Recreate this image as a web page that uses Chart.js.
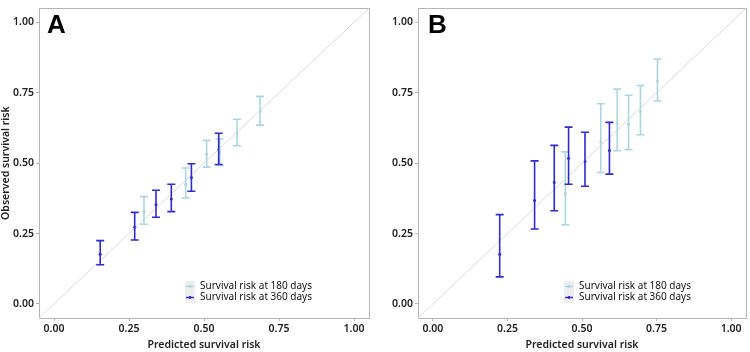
<!DOCTYPE html>
<html><head><meta charset="utf-8">
<script src="https://cdn.jsdelivr.net/npm/chart.js@4/dist/chart.umd.min.js"></script>
<style>
html,body{margin:0;padding:0;background:#fff;}
#wrap{display:flex;width:750px;height:352px;}
canvas{display:block;}
</style></head>
<body><div id="wrap"><canvas id="cA" width="375" height="352"></canvas><canvas id="cB" width="375" height="352"></canvas></div>
<script>
// ---- data ----
const AXIS_MIN = -0.05, AXIS_MAX = 1.05;
const TICKS = [0, 0.25, 0.5, 0.75, 1];
const SERIES_LABELS = ['Survival risk at 180 days', 'Survival risk at 360 days'];

const A_pred180 = [0.300, 0.439, 0.509, 0.552, 0.610, 0.687];
const A_obs180  = [0.328, 0.425, 0.532, 0.540, 0.607, 0.685];
const A_lo180   = [0.283, 0.376, 0.486, 0.492, 0.562, 0.635];
const A_hi180   = [0.381, 0.483, 0.581, 0.586, 0.656, 0.737];

const A_pred360 = [0.154, 0.269, 0.340, 0.391, 0.458, 0.549];
const A_obs360  = [0.176, 0.272, 0.352, 0.373, 0.449, 0.547];
const A_lo360   = [0.139, 0.227, 0.308, 0.328, 0.400, 0.495];
const A_hi360   = [0.225, 0.325, 0.404, 0.425, 0.498, 0.606];

const B_pred180 = [0.444, 0.563, 0.618, 0.656, 0.696, 0.753];
const B_obs180  = [0.390, 0.575, 0.642, 0.637, 0.683, 0.792];
const B_lo180   = [0.281, 0.467, 0.544, 0.548, 0.601, 0.721];
const B_hi180   = [0.540, 0.711, 0.763, 0.741, 0.776, 0.870];

const B_pred360 = [0.224, 0.341, 0.407, 0.455, 0.510, 0.592];
const B_obs360  = [0.176, 0.367, 0.431, 0.517, 0.506, 0.545];
const B_lo360   = [0.096, 0.266, 0.331, 0.425, 0.418, 0.461];
const B_hi360   = [0.317, 0.508, 0.563, 0.628, 0.610, 0.645];

// ---- styles ----
const COL180 = '#acd6df';
const COL360 = '#2f2bd0';
const FRAME = '#b5b5b5';
const FONT = "'Noto Sans', 'DejaVu Sans', sans-serif";

function mk(pred, obs, lo, hi) {
  return pred.map((x, i) => ({x: x, y: obs[i], lo: lo[i], hi: hi[i]}));
}

const panelPlugin = {
  id: 'panel',
  beforeDatasetsDraw(chart) {
    const {ctx, chartArea: a} = chart;
    ctx.save();
    ctx.strokeStyle = FRAME; ctx.lineWidth = 1;
    ctx.strokeRect(Math.round(a.left) + 0.5, Math.round(a.top) + 0.5, Math.round(a.right - a.left), Math.round(a.bottom - a.top));
    ctx.restore();
  },
  afterDatasetsDraw(chart, args, opts) {
    const {ctx, chartArea: a, scales} = chart;
    const xs = scales.x, ys = scales.y;
    ctx.save();
    ctx.beginPath(); ctx.rect(a.left, a.top, a.right - a.left, a.bottom - a.top); ctx.clip();
    chart.data.datasets.forEach((ds, di) => {
      if (!ds.errorBars) return;
      ctx.strokeStyle = ds.borderColor; ctx.lineWidth = 1.6;
      ds.data.forEach(p => {
        const px = xs.getPixelForValue(p.x);
        const yl = ys.getPixelForValue(p.lo), yh = ys.getPixelForValue(p.hi);
        ctx.beginPath();
        ctx.moveTo(px, yl); ctx.lineTo(px, yh);
        ctx.moveTo(px - 4, yl); ctx.lineTo(px + 4, yl);
        ctx.moveTo(px - 4, yh); ctx.lineTo(px + 4, yh);
        ctx.stroke();
      });
    });
    ctx.restore();
    // panel letter
    ctx.save();
    ctx.fillStyle = '#000';
    ctx.font = "bold 26px 'Liberation Sans', Arial, sans-serif";
    ctx.textBaseline = 'alphabetic';
    ctx.fillText(opts.letter, a.left + opts.letterDx, a.top + 25);
    // legend
    const lx = a.right - opts.legendRight;
    const ly = a.bottom - 37;
    ctx.fillStyle = '#eeeeee';
    ctx.fillRect(lx, ly, 10, 22);
    const rows = chart.data.datasets.filter(d => d.errorBars);
    ctx.font = "10px " + FONT;
    ctx.textBaseline = 'middle';
    rows.forEach((d, i) => {
      const yy = ly + 5.5 + i * 11;
      ctx.strokeStyle = d.borderColor; ctx.lineWidth = 1.4;
      ctx.beginPath(); ctx.moveTo(lx + 1, yy); ctx.lineTo(lx + 9, yy); ctx.stroke();
      ctx.fillStyle = d.borderColor;
      ctx.beginPath(); ctx.arc(lx + 5, yy, 1.4, 0, Math.PI * 2); ctx.fill();
      ctx.fillStyle = '#111';
      ctx.fillText(d.label, lx + 15, yy);
    });
    ctx.restore();
  }
};

function makeChart(id, d180, d360, opts) {
  const diag = [AXIS_MIN, AXIS_MAX].map(v => ({x: v, y: v}));
  const axisCommon = {
    type: 'linear', min: AXIS_MIN, max: AXIS_MAX,
    afterBuildTicks: s => { s.ticks = TICKS.map(v => ({value: v})); },
    grid: {drawOnChartArea: false, drawTicks: true, tickLength: 3, color: FRAME, lineWidth: 1},
    border: {display: false},
  };
  return new Chart(document.getElementById(id), {
    type: 'scatter',
    data: {datasets: [
      {type: 'line', label: 'diag', data: diag, borderColor: '#dadada', borderWidth: 1, pointRadius: 0, errorBars: false},
      {label: SERIES_LABELS[0], data: d180, borderColor: COL180, backgroundColor: COL180, pointRadius: 1.5, pointBorderWidth: 0, errorBars: true},
      {label: SERIES_LABELS[1], data: d360, borderColor: COL360, backgroundColor: COL360, pointRadius: 1.5, pointBorderWidth: 0, errorBars: true},
    ]},
    options: {
      responsive: false, animation: false,
      layout: {padding: {top: 2, right: opts.padRight, left: 0, bottom: 0}},
      plugins: {legend: {display: false}, tooltip: {enabled: false},
        panel: {letter: opts.letter, letterDx: opts.letterDx, legendRight: opts.legendRight}},
      scales: {
        x: Object.assign({}, axisCommon, {
          position: 'bottom',
          afterFit: s => { s.height = 34; },
          ticks: {color: '#222', font: {family: FONT, size: 10.5, weight: '600'}, padding: 2, callback: v => v.toFixed(2), maxRotation: 0},
          title: {display: true, text: 'Predicted survival risk', color: '#222', font: {family: FONT, size: 10.5, weight: '600'}, padding: {top: 0, bottom: 1}},
        }),
        y: Object.assign({}, axisCommon, {
          position: 'left',
          afterFit: s => { s.width = opts.yWidth; },
          ticks: {color: '#222', font: {family: FONT, size: 10.5, weight: '600'}, padding: 2, callback: v => v.toFixed(2)},
          title: {display: opts.yTitle, text: 'Observed survival risk', color: '#222', font: {family: FONT, size: 10.5, weight: '600'}, padding: {top: 0, bottom: 0}},
        }),
      }
    },
    plugins: [panelPlugin]
  });
}

makeChart('cA', mk(A_pred180, A_obs180, A_lo180, A_hi180), mk(A_pred360, A_obs360, A_lo360, A_hi360),
  {letter: 'A', letterDx: 8, legendRight: 184, padRight: 6, yWidth: 39, yTitle: true});
makeChart('cB', mk(B_pred180, B_obs180, B_lo180, B_hi180), mk(B_pred360, B_obs360, B_lo360, B_hi360),
  {letter: 'B', letterDx: 10, legendRight: 182, padRight: 3, yWidth: 43, yTitle: false});
</script>
</body></html>
